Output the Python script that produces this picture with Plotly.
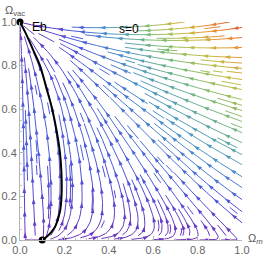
import math
import numpy as np
import plotly.graph_objects as go

# ---------------- flow model in the (Omega_m, Omega_vac) plane ----------------
X_SOURCE = 0.1      # Omega_m of the starting point of the Eb solution
A_MATTER = 0.29
A_LEFT = 0.6
D_SOFT = 0.05
G_LIN = 0.55
G_QUART = 1.45
B_COUPLE = 2.3
C_VAC = 2.0
E_VAC = 0.45

# ---------------- seed points of the stream lines ----------------
seed_right_y = [0.975, 0.929, 0.883, 0.837, 0.787, 0.736, 0.690, 0.644, 0.594,
                0.544, 0.493, 0.447, 0.392, 0.346, 0.291, 0.241, 0.186, 0.131, 0.08]
seed_row_x = [0.02, 0.06, 0.1, 0.14, 0.236, 0.28, 0.33, 0.37, 0.42, 0.46, 0.51]
seed_row_y = 0.2
seed_low_x = [0.6, 0.7, 0.8, 0.88]
seed_low_y = 0.04
seed_top_x = [0.25, 0.4, 0.55, 0.7, 0.85]
seed_top_y = 0.96
fill_x = [0.025, 0.075, 0.125, 0.175, 0.225, 0.275, 0.325, 0.375, 0.425, 0.475,
          0.525, 0.575, 0.625, 0.675, 0.725, 0.775, 0.825, 0.875, 0.925, 0.975]
fill_y = [0.975, 0.925, 0.875, 0.825, 0.775, 0.725, 0.675, 0.625, 0.575, 0.525,
          0.475, 0.425, 0.375, 0.325, 0.275, 0.225, 0.175, 0.125, 0.075, 0.025]

# ---------------- the Eb solution (black curve) ----------------
eb_x = [0.0, 0.025, 0.06, 0.09, 0.118, 0.145, 0.165, 0.18, 0.187, 0.187, 0.18, 0.16, 0.14, 0.12, 0.1]
eb_y = [1.0, 0.95, 0.87, 0.8, 0.7, 0.6, 0.5, 0.4, 0.3, 0.2, 0.13, 0.065, 0.035, 0.015, 0.0]
end_x = [0.0, 0.1]
end_y = [1.0, 0.0]

# ---------------- colours (rainbow by flow speed) ----------------
color_pos = [0.0, 0.17, 0.33, 0.5, 0.67, 0.83, 1.0]
color_rgb = [(115, 45, 185), (75, 85, 222), (75, 150, 200), (120, 188, 120),
             (196, 190, 66), (232, 142, 50), (222, 56, 36)]


def field_s(x, y):
    if x >= X_SOURCE:
        F = A_MATTER * (x - X_SOURCE) * (1.0 - x) / (x + D_SOFT) ** 2
    else:
        F = A_LEFT * (x - X_SOURCE)
    G = (1.0 - x) * (G_LIN * y + G_QUART * y ** 4) + B_COUPLE * math.sqrt(max(x, 0.0)) * y
    u = x * (F - G)
    v = C_VAC * y * (1.0 - y) - E_VAC * x * x * y ** 4
    return u, v


VMAX = max(math.hypot(*field_s(i / 100, j / 100)) for i in range(101) for j in range(101))

NCELL = 52
grid = np.zeros((NCELL, NCELL), int)


def cell(x, y):
    i = min(max(int(x * NCELL), 0), NCELL - 1)
    j = min(max(int(y * NCELL), 0), NCELL - 1)
    return i, j


def unit(x, y, sign):
    u, v = field_s(x, y)
    s = math.hypot(u, v)
    if s < 1e-7:
        return None
    return sign * u / s, sign * v / s


def trace_dir(seed, sign, lid, h=0.003, nmax=1500):
    x, y = seed
    pts = []
    cur = cell(x, y)
    for _ in range(nmax):
        k1 = unit(x, y, sign)
        if k1 is None:
            break
        k2 = unit(x + 0.5 * h * k1[0], y + 0.5 * h * k1[1], sign)
        if k2 is None:
            break
        k3 = unit(x + 0.5 * h * k2[0], y + 0.5 * h * k2[1], sign)
        if k3 is None:
            break
        k4 = unit(x + h * k3[0], y + h * k3[1], sign)
        if k4 is None:
            break
        qx = x + h * (k1[0] + 2 * k2[0] + 2 * k3[0] + k4[0]) / 6
        qy = y + h * (k1[1] + 2 * k2[1] + 2 * k3[1] + k4[1]) / 6
        if not (0 <= qx <= 1 and 0 <= qy <= 1):
            dx, dy = qx - x, qy - y
            t = 1.0
            if qx < 0:
                t = min(t, -x / dx)
            if qx > 1:
                t = min(t, (1 - x) / dx)
            if qy < 0:
                t = min(t, -y / dy)
            if qy > 1:
                t = min(t, (1 - y) / dy)
            pts.append((x + t * dx, y + t * dy))
            break
        if math.hypot(qx, qy - 1) < 0.02 or math.hypot(qx - X_SOURCE, qy) < 0.01:
            pts.append((qx, qy))
            break
        c = cell(qx, qy)
        if c != cur:
            if grid[c] != 0 and grid[c] != lid:
                break
            grid[c] = lid
            cur = c
        pts.append((qx, qy))
        x, y = qx, qy
    return pts


seeds = [(0.999, y) for y in seed_right_y]
seeds += [(x, seed_row_y) for x in seed_row_x]
seeds += [(x, seed_low_y) for x in seed_low_x]
seeds += [(x, seed_top_y) for x in seed_top_x]
seeds += [(x, y) for y in fill_y for x in fill_x]

lines = []
lid = 0
for s in seeds:
    c = cell(*s)
    if grid[c] != 0:
        continue
    lid += 1
    grid[c] = lid
    back = trace_dir(s, -1, lid)
    fwd = trace_dir(s, 1, lid)
    pts = back[::-1] + [s] + fwd
    if len(pts) < 14:
        continue
    lines.append(np.array(pts))


def color_of(t):
    t = min(max(t, 0.0), 1.0) ** 1.1
    for k in range(len(color_pos) - 1):
        if t <= color_pos[k + 1]:
            f = (t - color_pos[k]) / (color_pos[k + 1] - color_pos[k])
            c0, c1 = color_rgb[k], color_rgb[k + 1]
            return "rgb(%d,%d,%d)" % tuple(round(c0[i] + f * (c1[i] - c0[i])) for i in range(3))
    return "rgb(%d,%d,%d)" % color_rgb[-1]


NB = 28
bins_x = [[] for _ in range(NB)]
bins_y = [[] for _ in range(NB)]
arr_x, arr_y, arr_c, arr_a = [], [], [], []
SX, SY = 222.0, 218.0

for n, L in enumerate(lines):
    L = L[::3] if len(L) > 6 else L
    if len(L) < 2:
        continue
    mid = 0.5 * (L[1:] + L[:-1])
    sp = np.array([math.hypot(*field_s(px, py)) for px, py in mid]) / VMAX
    b = np.clip(np.round(sp * (NB - 1)).astype(int), 0, NB - 1)
    start = 0
    for k in range(1, len(b) + 1):
        if k == len(b) or b[k] != b[start]:
            seg = L[start:k + 1]
            bins_x[b[start]] += [float(q) for q in seg[:, 0]] + [None]
            bins_y[b[start]] += [float(q) for q in seg[:, 1]] + [None]
            start = k
    ds = np.hypot(np.diff(L[:, 0]) * SX, np.diff(L[:, 1]) * SY)
    s_cum = np.concatenate([[0], np.cumsum(ds)])
    total = s_cum[-1]
    pos = 8.0 + (n * 7.3) % 14.0
    while pos < total - 4:
        k = int(np.searchsorted(s_cum, pos))
        k = min(max(k, 1), len(L) - 1)
        d = L[k] - L[k - 1]
        ang = float(np.degrees(np.arctan2(d[0] * SX, d[1] * SY)))
        arr_x.append(float(L[k][0]))
        arr_y.append(float(L[k][1]))
        arr_a.append(ang)
        arr_c.append(color_of(math.hypot(*field_s(L[k][0], L[k][1])) / VMAX))
        pos += 22.0

fig = go.Figure()
for k in range(NB):
    if not bins_x[k]:
        continue
    fig.add_trace(go.Scatter(x=bins_x[k], y=bins_y[k], mode="lines",
                             line=dict(color=color_of(k / (NB - 1)), width=1.0),
                             hoverinfo="skip", connectgaps=False))

fig.add_trace(go.Scatter(x=arr_x, y=arr_y, mode="markers",
                         marker=dict(symbol="arrow", size=6, angle=arr_a, color=arr_c,
                                     line=dict(width=0)),
                         hoverinfo="skip"))

fig.add_trace(go.Scatter(x=eb_x, y=eb_y, mode="lines",
                         line=dict(color="black", width=2, shape="spline"), hoverinfo="skip"))
fig.add_trace(go.Scatter(x=end_x, y=end_y, mode="markers", cliponaxis=False,
                         marker=dict(color="black", size=7), hoverinfo="skip"))

font_tick = dict(family="Liberation Sans, Arial, sans-serif", size=11, color="#666666")
axis_common = dict(range=[0, 1], showgrid=False, zeroline=False, showline=True,
                   linecolor="#b4b4b4", linewidth=1, ticks="inside", ticklen=4,
                   tickcolor="#b4b4b4", tick0=0, dtick=0.2, tickformat=".1f",
                   tickfont=font_tick, automargin=False,
                   minor=dict(ticks="inside", ticklen=2, dtick=0.05, tickcolor="#c8c8c8"))

fig.update_layout(
    width=266, height=261,
    margin=dict(l=20, r=24, t=22, b=21),
    plot_bgcolor="white", paper_bgcolor="white", showlegend=False,
    xaxis=axis_common, yaxis=axis_common,
    annotations=[
        dict(text="Eb", x=0.09, y=0.979, xref="x", yref="y", showarrow=False,
             font=dict(family="Liberation Sans, Arial, sans-serif", size=12, color="black")),
        dict(text="s=0", x=0.493, y=0.97, xref="x", yref="y", showarrow=False,
             font=dict(family="Liberation Sans, Arial, sans-serif", size=12, color="black")),
        dict(text="Ω<sub>vac</sub>", x=-0.075, y=1.052, xref="paper", yref="paper",
             xanchor="left", yanchor="middle", showarrow=False,
             font=dict(family="Liberation Sans, Arial, sans-serif", size=11, color="#555555")),
        dict(text="Ω<sub><i>m</i></sub>", x=1.018, y=0.005, xref="paper", yref="paper",
             xanchor="left", yanchor="middle", showarrow=False,
             font=dict(family="Liberation Sans, Arial, sans-serif", size=11, color="#555555")),
    ],
)

fig.write_html("out.html", config={"displayModeBar": False},
               post_script="document.body.style.margin='0';document.body.style.padding='0';")
